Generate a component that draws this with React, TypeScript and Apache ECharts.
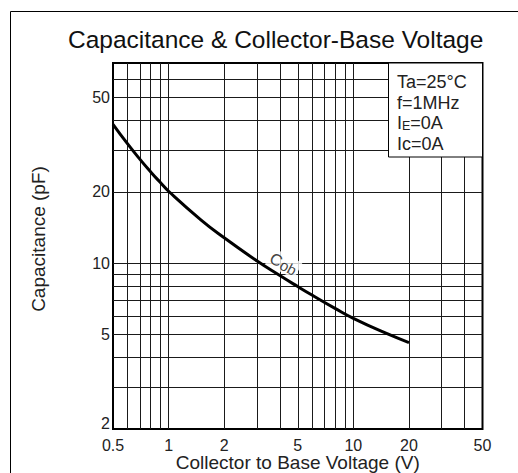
import React, { useEffect, useRef } from "react";
import * as echarts from "echarts";

const voltage = [0.5, 0.6, 0.7, 0.8, 0.9, 1, 1.5, 2, 3, 4, 5, 6, 8, 10, 15, 20];
const capacitance = [38.6, 31.9, 27.45, 24.3, 21.97, 20.14, 15.22, 12.81, 10.25, 8.88, 7.98, 7.33, 6.44, 5.86, 5.07, 4.63];

const xGridValues = [0.6, 0.7, 0.8, 0.9, 1, 2, 3, 4, 5, 6, 7, 8, 9, 10, 20, 30, 40];
const yGridValues = [3, 4, 5, 6, 7, 8, 9, 10, 20, 30, 40, 50, 60];
const xTickLabels = [0.5, 1, 2, 5, 10, 20, 50];
const yTickLabels = [2, 5, 10, 20, 50];
const curveLabelAt = [4.2, 10.0];
const conditions = ["Ta=25°C", "f=1MHz", "{a|I}{s|E}{a|=0A}", "Ic=0A"];

const FONT = "'Liberation Sans', Arial, sans-serif";

export default function App() {
  const ref = useRef<HTMLDivElement>(null);
  useEffect(() => {
    if (!ref.current) return;
    const chart = echarts.init(ref.current, null, { renderer: "svg" });
    const gridLines = [
      ...xGridValues.map((v) => ({ xAxis: v })),
      ...yGridValues.map((v) => ({ yAxis: v })),
    ];
    const textLines = conditions.map((t, i) => ({
      type: "text",
      left: 397,
      top: 73 + i * 20.5,
      z: 20,
      style: {
        text: t,
        fontFamily: FONT,
        fontSize: 18,
        fill: "#222",
        rich: {
          a: { fontFamily: FONT, fontSize: 18, fill: "#222" },
          s: { fontFamily: FONT, fontSize: 12.5, fill: "#222", verticalAlign: "bottom", padding: [5, 0, 0, 0] },
        },
      },
    }));
    chart.setOption({
      animation: false,
      backgroundColor: "#fff",
      textStyle: { fontFamily: FONT },
      title: {
        text: "Capacitance & Collector-Base Voltage",
        left: 63,
        top: 22,
        textStyle: { fontFamily: FONT, fontSize: 24.5, fontWeight: "normal", color: "#111" },
      },
      grid: {
        left: 113,
        top: 63,
        right: 35.5,
        bottom: 44,
        outerBoundsMode: "none",
        containLabel: false,
        show: true,
        borderColor: "#000",
        borderWidth: 2,
        backgroundColor: "#fff",
      },
      xAxis: {
        type: "log",
        logBase: 10,
        min: 0.5,
        max: 50,
        name: "Collector to Base Voltage (V)",
        nameLocation: "middle",
        nameGap: 24,
        nameMoveOverlap: false,
        nameTextStyle: { fontFamily: FONT, fontSize: 19, color: "#222" },
        axisLine: { show: false },
        axisTick: { show: false },
        splitLine: { show: false },
        minorTick: { show: false },
        axisLabel: {
          customValues: xTickLabels,
          fontFamily: FONT,
          fontSize: 16,
          color: "#222",
          margin: 8,
          formatter: (v: number) => String(v),
        },
      },
      yAxis: {
        type: "log",
        logBase: 10,
        min: 2,
        max: 70,
        name: "Capacitance (pF)",
        nameLocation: "middle",
        nameGap: 65,
        nameMoveOverlap: false,
        nameTextStyle: { fontFamily: FONT, fontSize: 19, color: "#222", padding: [0, 0, 0, 14] },
        axisLine: { show: false },
        axisTick: { show: false },
        splitLine: { show: false },
        axisLabel: {
          customValues: yTickLabels,
          fontFamily: FONT,
          fontSize: 16,
          color: "#222",
          margin: 3,
          formatter: (v: number) => (v === yTickLabels[0] ? "{low|" + v + "}" : String(v)),
          rich: {
            low: { fontFamily: FONT, fontSize: 16, color: "#222", padding: [0, 0, 12, 0] },
          },
        },
      },
      series: [
        {
          type: "line",
          data: voltage.map((v, i) => [v, capacitance[i]]),
          smooth: 0.5,
          showSymbol: false,
          symbol: "none",
          z: 3,
          lineStyle: { color: "#000", width: 3 },
          markLine: {
            silent: true,
            z: 1,
            symbol: ["none", "none"],
            label: { show: false },
            emphasis: { disabled: true },
            lineStyle: { color: "#1a1a1a", width: 1, type: "solid" },
            data: gridLines,
          },
        },
        {
          type: "scatter",
          data: [curveLabelAt],
          symbolSize: 0,
          z: 10,
          silent: true,
          label: {
            show: true,
            position: "inside",
            rotate: -28,
            formatter: "{c|C}{o|ob}",
            backgroundColor: "#fff",
            padding: [0, 2],
            rich: {
              c: { fontFamily: FONT, fontSize: 16.5, color: "#111" },
              o: { fontFamily: FONT, fontSize: 15, color: "#111", padding: [3, 0, 0, 0] },
            },
          },
        },
      ],
      graphic: [
        {
          type: "rect",
          shape: { x: 10.5, y: 11.5, width: 560, height: 520 },
          style: { fill: "none", stroke: "#000", lineWidth: 1 },
          z: 0,
          silent: true,
        },
        {
          type: "rect",
          shape: { x: 388.5, y: 63, width: 94, height: 94 },
          style: { fill: "#fff", stroke: "#000", lineWidth: 1 },
          z: 15,
          silent: true,
        },
        ...textLines,
      ],
    });
    return () => chart.dispose();
  }, []);
  return (
    <div
      ref={ref}
      style={{ position: "fixed", left: 0, top: 0, width: 518, height: 473 }}
    />
  );
}
